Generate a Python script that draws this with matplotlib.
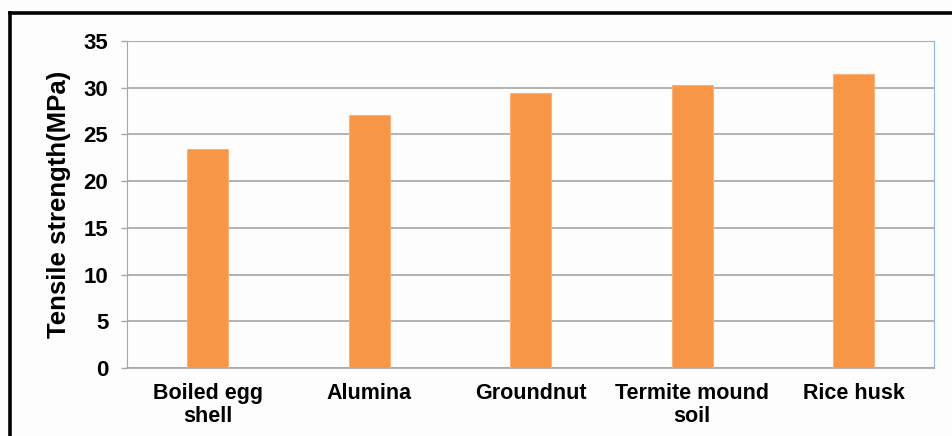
import matplotlib.pyplot as plt
from matplotlib.lines import Line2D

plt.rcParams['font.family'] = ['Liberation Sans', 'DejaVu Sans']
plt.rcParams['font.weight'] = 'bold'

# Data
categories = ['Boiled egg\nshell', 'Alumina', 'Groundnut', 'Termite mound\nsoil', 'Rice husk']
tensile = [23.4, 27.1, 29.4, 30.3, 31.5]
y_ticks = [0, 5, 10, 15, 20, 25, 30, 35]

fig = plt.figure(figsize=(9.52, 4.36), dpi=100)
fig.patch.set_facecolor('#FDFDFD')
ax = fig.add_axes([0.1334, 0.156, 0.848, 0.750])
ax.set_facecolor('#FDFDFD')

x = range(len(categories))
ax.bar(x, tensile, width=0.255, color='#F79646', edgecolor='#FAB27A', linewidth=0.8, zorder=3)

ax.set_xlim(-0.5, len(categories) - 0.5)
ax.set_ylim(0, 35)
ax.set_yticks(y_ticks)
ax.set_xticks(list(x))
ax.set_xticklabels(categories, fontsize=15.5, fontweight='bold', linespacing=1.08)
ax.tick_params(axis='x', length=0, pad=11)
ax.tick_params(axis='y', length=4.5, width=1, color='#A6A6A6', labelsize=16, pad=9)
for lab in ax.get_yticklabels():
    lab.set_fontweight('bold')

ax.grid(axis='y', color='#A6A6A6', linewidth=1.2, zorder=0)
ax.set_ylabel('Tensile strength(MPa)', fontsize=18.5, fontweight='bold', labelpad=9)

ax.spines['left'].set_color('#A6A6A6')
ax.spines['bottom'].set_color('#A6A6A6')
ax.spines['bottom'].set_linewidth(1.2)
ax.spines['top'].set_color('#95B3D7')
ax.spines['right'].set_color('#95B3D7')

# black frame on left and top edges
fig.add_artist(Line2D([0.0101, 0.0101], [0.0, 0.970], transform=fig.transFigure, color='black', linewidth=2.6))
fig.add_artist(Line2D([0.0101, 1.0], [0.970, 0.970], transform=fig.transFigure, color='black', linewidth=2.6))

fig.savefig('out.png', dpi=100, facecolor=fig.get_facecolor())
